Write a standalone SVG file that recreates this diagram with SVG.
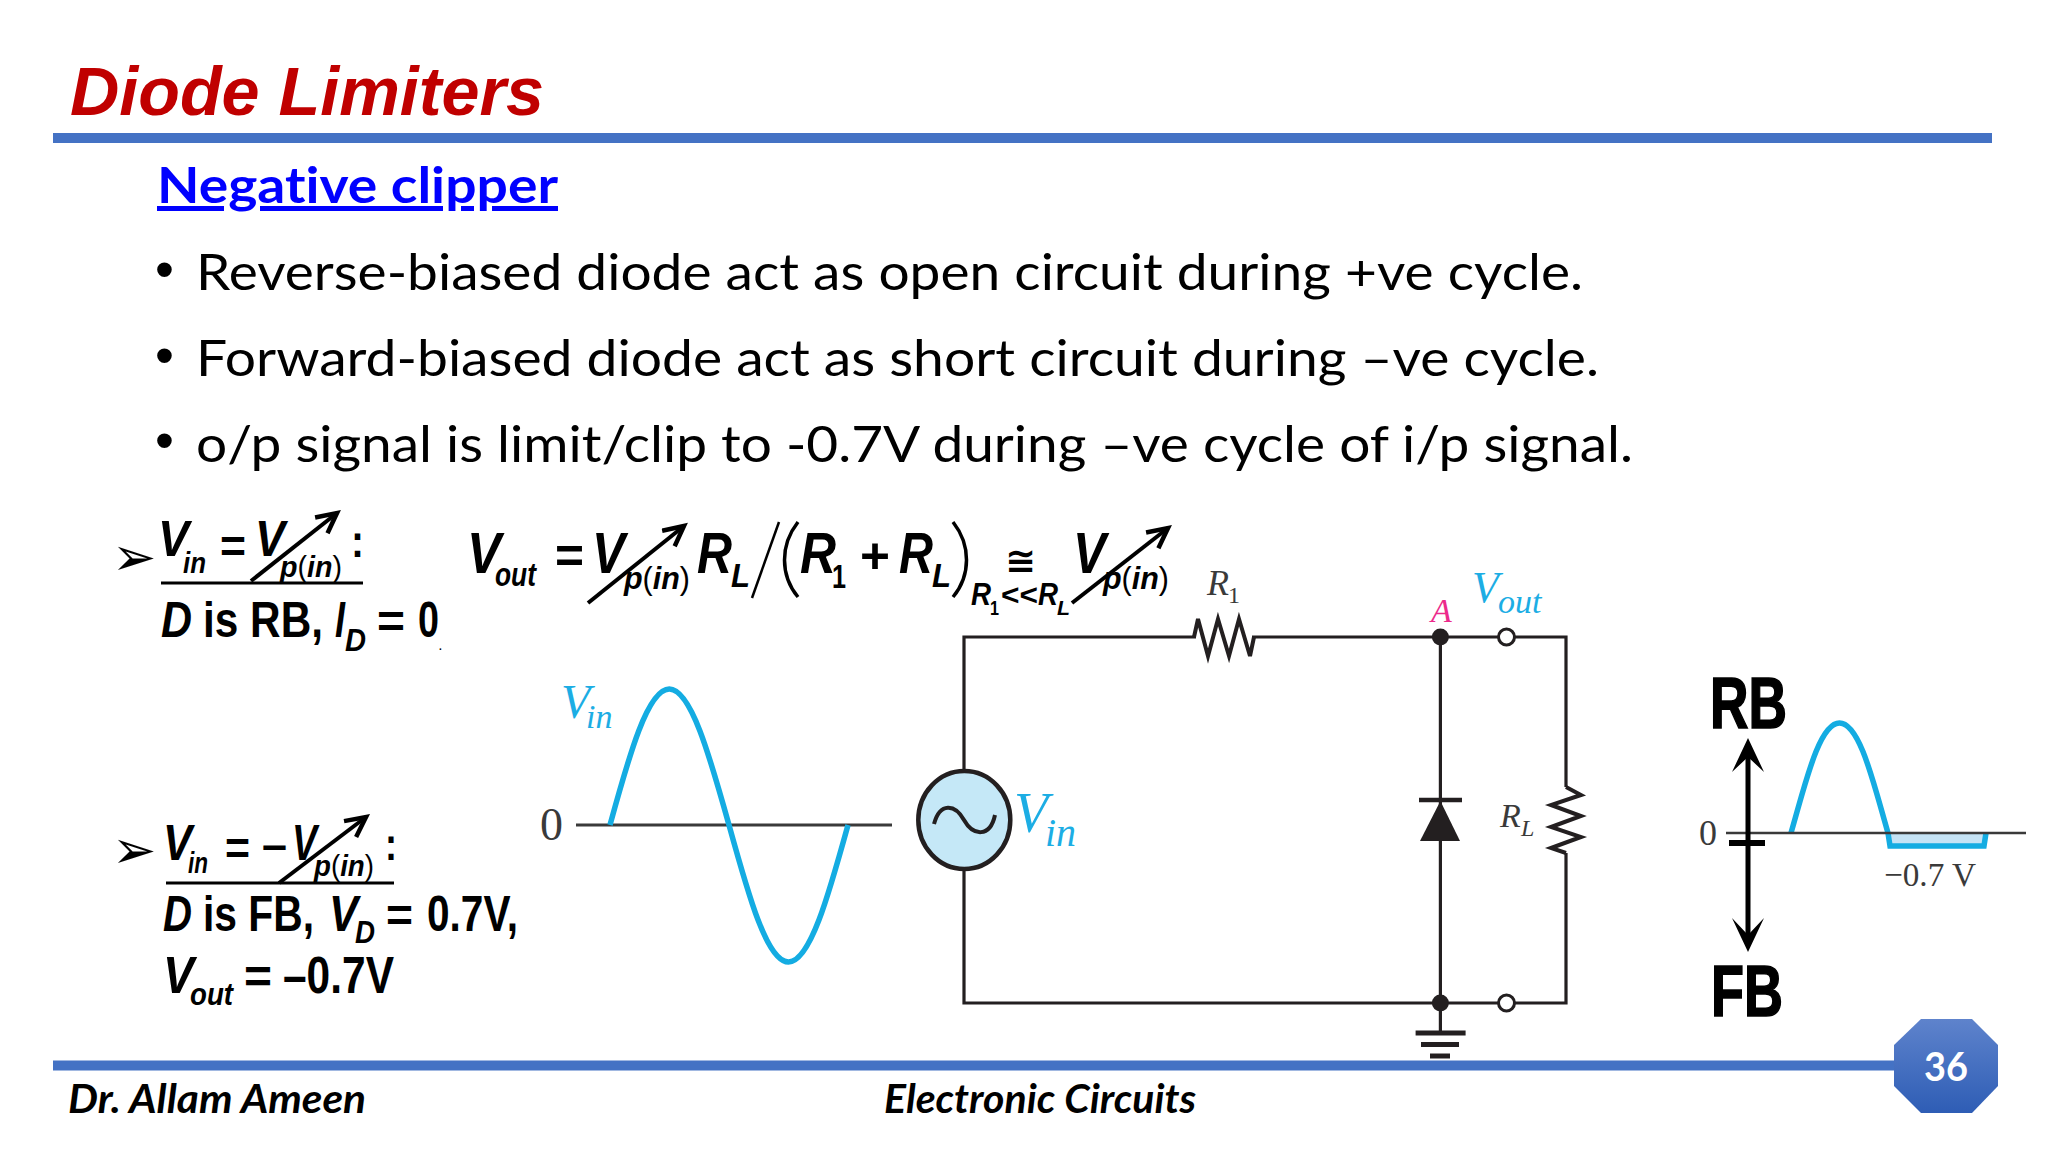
<svg xmlns="http://www.w3.org/2000/svg" width="2048" height="1152" viewBox="0 0 2048 1152">
<style>
text{white-space:pre;font-variant-ligatures:none}
.cal{font-family:"Lato","Carlito","Open Sans",sans-serif;fill:#000}
.dot{font-family:"Liberation Sans",Arial,sans-serif;fill:#000;font-size:54px}
.b{font-family:"Liberation Sans",Arial,sans-serif;font-weight:700;fill:#000}
.bi{font-family:"Liberation Sans",Arial,sans-serif;font-weight:700;font-style:italic;fill:#000}
.par{font-weight:400;font-style:normal}
.arw{font-family:"DejaVu Sans",sans-serif;font-size:53px;fill:#000}
.ti{font-family:"Liberation Serif","Times New Roman",serif;font-style:italic}
.t{font-family:"Liberation Serif","Times New Roman",serif}
.blue{fill:#1CADE4}
.dk{fill:#3a3a3a}
.w{fill:none;stroke:#231F20;stroke-width:3.2}
.z{fill:none;stroke:#231F20;stroke-width:4;stroke-linejoin:miter}
.nd{fill:#231F20}
.op{fill:#fff;stroke:#231F20;stroke-width:3}
.ar{fill:none;stroke:#000;stroke-width:4;marker-end:url(#ah)}
.ul{stroke:#000;stroke-width:3.2}
.wave{fill:none;stroke:#14ACE2;stroke-width:5.5}
.hv{stroke:#000;stroke-width:1.6}
</style>
<defs>
<marker id="ah" markerUnits="userSpaceOnUse" markerWidth="30" markerHeight="30" refX="24" refY="12" orient="auto">
<path d="M4,2 L24,12 L4,22" fill="none" stroke="#000" stroke-width="4.5"/>
</marker>
<linearGradient id="oct" x1="0" y1="0" x2="0" y2="1"><stop offset="0" stop-color="#5E83CC"/><stop offset="1" stop-color="#2E5DB5"/></linearGradient>
</defs>
<rect width="2048" height="1152" fill="#fff"/>

<g id="header">
<text x="70" y="115" font-family="Liberation Sans, Arial, sans-serif" font-weight="700" font-style="italic" font-size="69" fill="#C00000" textLength="474" lengthAdjust="spacingAndGlyphs">Diode Limiters</text>
<rect x="53" y="133" width="1939" height="10" fill="#4472C4"/>
</g>

<g id="bullets">
<text class="cal" x="157" y="203" font-size="50" font-weight="700" style="fill:#0000FF" text-decoration="underline" textLength="401" lengthAdjust="spacingAndGlyphs">Negative clipper</text>
<text class="dot" x="155" y="288">•</text>
<text class="cal" x="196" y="290" font-size="51" textLength="1387" lengthAdjust="spacingAndGlyphs">Reverse-biased diode act as open circuit during +ve cycle.</text>
<text class="dot" x="155" y="374">•</text>
<text class="cal" x="196" y="375.5" font-size="51" textLength="1403" lengthAdjust="spacingAndGlyphs">Forward-biased diode act as short circuit during –ve cycle.</text>
<text class="dot" x="155" y="459">•</text>
<text class="cal" x="196" y="461.5" font-size="51" textLength="1437" lengthAdjust="spacingAndGlyphs">o/p signal is limit/clip to -0.7V during –ve cycle of i/p signal.</text>
</g>

<g id="eq-rb">
<text class="arw" x="112" y="575">➢</text>
<text class="bi" x="158" y="556" font-size="50" textLength="31" lengthAdjust="spacingAndGlyphs">V</text>
<text class="bi" x="183" y="573" font-size="30" textLength="23" lengthAdjust="spacingAndGlyphs">in</text>
<text class="b" x="220" y="562" font-size="46" textLength="26" lengthAdjust="spacingAndGlyphs">=</text>
<text class="bi" x="255" y="556" font-size="50" textLength="30" lengthAdjust="spacingAndGlyphs">V</text>
<text class="bi" x="280" y="577" font-size="30" textLength="62" lengthAdjust="spacingAndGlyphs">p<tspan class="par">(</tspan>in<tspan class="par">)</tspan></text>
<text class="b" x="351" y="557" font-size="46" textLength="13" lengthAdjust="spacingAndGlyphs">:</text>
<line class="ul" x1="161" y1="583" x2="363" y2="583"/>
<path class="ar" d="M251,581 L337,513"/>
<text class="bi" x="161" y="637" font-size="50" textLength="31" lengthAdjust="spacingAndGlyphs">D</text>
<text class="b" x="203" y="637" font-size="50" textLength="120" lengthAdjust="spacingAndGlyphs">is RB,</text>
<text class="bi" x="335" y="637" font-size="50" textLength="10" lengthAdjust="spacingAndGlyphs">I</text>
<text class="bi" x="345" y="651" font-size="32" textLength="21" lengthAdjust="spacingAndGlyphs">D</text>
<text class="b" x="377" y="637" font-size="46" textLength="28" lengthAdjust="spacingAndGlyphs">=</text>
<text class="b" x="418" y="637" font-size="50" textLength="21" lengthAdjust="spacingAndGlyphs">0</text>
<text class="b" x="439" y="650" font-size="10">.</text>
</g>

<g id="eq-vout">
<text class="bi" x="467" y="573" font-size="58" textLength="34" lengthAdjust="spacingAndGlyphs">V</text>
<text class="bi" x="495" y="586" font-size="33" textLength="41" lengthAdjust="spacingAndGlyphs">out</text>
<text class="b" x="555" y="573" font-size="50" textLength="29" lengthAdjust="spacingAndGlyphs">=</text>
<text class="bi" x="592" y="573" font-size="58" textLength="33" lengthAdjust="spacingAndGlyphs">V</text>
<text class="bi" x="624" y="589" font-size="32" textLength="66" lengthAdjust="spacingAndGlyphs">p<tspan class="par">(</tspan>in<tspan class="par">)</tspan></text>
<path class="ar" d="M588,603 L684,526"/>
<text class="bi" x="697" y="573" font-size="58" textLength="35" lengthAdjust="spacingAndGlyphs">R</text>
<text class="bi" x="731" y="587" font-size="33" textLength="19" lengthAdjust="spacingAndGlyphs">L</text>
<line x1="752" y1="598" x2="779" y2="522" stroke="#000" stroke-width="2.5"/>
<path d="M798,522 C780,545 780,575 798,597" fill="none" stroke="#000" stroke-width="3.5"/>
<text class="bi" x="800" y="573" font-size="58" textLength="36" lengthAdjust="spacingAndGlyphs">R</text>
<text class="b" x="832" y="588" font-size="33" textLength="14" lengthAdjust="spacingAndGlyphs">1</text>
<text class="b" x="860" y="573" font-size="50" textLength="30" lengthAdjust="spacingAndGlyphs">+</text>
<text class="bi" x="899" y="573" font-size="58" textLength="34" lengthAdjust="spacingAndGlyphs">R</text>
<text class="bi" x="932" y="587" font-size="33" textLength="19" lengthAdjust="spacingAndGlyphs">L</text>
<path d="M953,522 C971,545 971,575 953,597" fill="none" stroke="#000" stroke-width="3.5"/>
<text class="bi" x="971" y="605" font-size="31" textLength="20" lengthAdjust="spacingAndGlyphs">R</text>
<text class="b" x="990" y="615" font-size="21" textLength="9" lengthAdjust="spacingAndGlyphs">1</text>
<text class="b" x="1001" y="605" font-size="30" textLength="37" lengthAdjust="spacingAndGlyphs">&lt;&lt;</text>
<text class="bi" x="1038" y="605" font-size="31" textLength="20" lengthAdjust="spacingAndGlyphs">R</text>
<text class="bi" x="1057" y="615" font-size="21" textLength="13" lengthAdjust="spacingAndGlyphs">L</text>
<text x="1005" y="573" font-family="DejaVu Sans, sans-serif" font-weight="700" font-size="36" textLength="31" lengthAdjust="spacingAndGlyphs">≅</text>
<text class="bi" x="1073" y="573" font-size="58" textLength="33" lengthAdjust="spacingAndGlyphs">V</text>
<text class="bi" x="1103" y="589" font-size="32" textLength="66" lengthAdjust="spacingAndGlyphs">p<tspan class="par">(</tspan>in<tspan class="par">)</tspan></text>
<path class="ar" d="M1072,603 L1168,528"/>
</g>

<g id="eq-fb">
<text class="arw" x="112" y="868">➢</text>
<text class="bi" x="163" y="860" font-size="50" textLength="29" lengthAdjust="spacingAndGlyphs">V</text>
<text class="bi" x="188" y="873" font-size="30" textLength="20" lengthAdjust="spacingAndGlyphs">in</text>
<text class="b" x="225" y="864" font-size="46" textLength="25" lengthAdjust="spacingAndGlyphs">=</text>
<text class="b" x="262" y="860" font-size="46" textLength="25" lengthAdjust="spacingAndGlyphs">–</text>
<text class="bi" x="292" y="860" font-size="50" textLength="25" lengthAdjust="spacingAndGlyphs">V</text>
<text class="bi" x="314" y="876" font-size="30" textLength="60" lengthAdjust="spacingAndGlyphs">p<tspan class="par">(</tspan>in<tspan class="par">)</tspan></text>
<text class="b" x="385" y="860" font-size="46" textLength="12" lengthAdjust="spacingAndGlyphs">:</text>
<line class="ul" x1="166" y1="883" x2="394" y2="883"/>
<path class="ar" d="M279,883 L366,817"/>
<text class="bi" x="163" y="931" font-size="50" textLength="29" lengthAdjust="spacingAndGlyphs">D</text>
<text class="b" x="203" y="931" font-size="50" textLength="111" lengthAdjust="spacingAndGlyphs">is FB,</text>
<text class="bi" x="329" y="931" font-size="50" textLength="29" lengthAdjust="spacingAndGlyphs">V</text>
<text class="bi" x="355" y="943" font-size="31" textLength="20" lengthAdjust="spacingAndGlyphs">D</text>
<text class="b" x="386" y="931" font-size="46" textLength="27" lengthAdjust="spacingAndGlyphs">=</text>
<text class="b" x="427" y="931" font-size="50" textLength="91" lengthAdjust="spacingAndGlyphs">0.7V,</text>
<text class="bi" x="163" y="993" font-size="52" textLength="31" lengthAdjust="spacingAndGlyphs">V</text>
<text class="bi" x="190" y="1005" font-size="31" textLength="43" lengthAdjust="spacingAndGlyphs">out</text>
<text class="b" x="244" y="993" font-size="48" textLength="28" lengthAdjust="spacingAndGlyphs">=</text>
<text class="b" x="283" y="993" font-size="52" textLength="111" lengthAdjust="spacingAndGlyphs">–0.7V</text>
</g>

<g id="input-wave">
<line x1="576" y1="825" x2="892" y2="825" stroke="#3a3a3a" stroke-width="3"/>
<path class="wave" d="M610,825 C629.1,755.4 647.7,689 669.3,689 C690.9,689 709.5,755.4 729,825 C748.4,895.2 767,962 788.5,962 C810,962 828.6,895.2 848,825"/>
<text class="t dk" x="540" y="840" font-size="46">0</text>
<text class="ti blue" x="561" y="718" font-size="48">V</text>
<text class="ti blue" x="586" y="728" font-size="34">in</text>
</g>

<g id="connectors">
<path class="w" d="M964,771 V637 H1196 M1252,637 H1566 V787 M1566,853 V1003 H964 V869"/>
<path class="w" d="M1440.4,637 V1033"/>
</g>

<g id="source">
<ellipse cx="964.3" cy="820" rx="46" ry="49" fill="#C5E8F7" stroke="#231F20" stroke-width="4.5"/>
<path d="M934,824 C940,802 955,804 964,820 C973,836 990,838 995,815" fill="none" stroke="#231F20" stroke-width="4"/>
<text class="ti blue" x="1014" y="832" font-size="56">V</text>
<text class="ti blue" x="1045" y="846" font-size="40">in</text>
</g>

<g id="r1">
<path class="z" d="M1194,637 L1198,619 L1208,656 L1218,619 L1229,656 L1239,619 L1250,656 L1254,637"/>
<text class="ti dk" x="1207" y="595" font-size="36">R</text>
<text class="t dk" x="1228" y="603" font-size="24">1</text>
</g>

<g id="node-a">
<circle class="nd" cx="1440.4" cy="637" r="8.5"/>
<text class="ti" x="1431" y="622" font-size="34" fill="#EC2A8B">A</text>
</g>

<g id="vout-top">
<circle class="op" cx="1506.5" cy="637" r="8"/>
<text class="ti blue" x="1472" y="602" font-size="44">V</text>
<text class="ti blue" x="1498" y="613" font-size="34">out</text>
</g>

<g id="diode">
<line x1="1419" y1="800" x2="1462" y2="800" stroke="#231F20" stroke-width="4.5"/>
<path class="nd" d="M1440.4,801 L1460,841 H1420 Z"/>
</g>

<g id="rl">
<path class="z" d="M1566,787 L1581,795 L1551,805 L1581,816 L1551,827 L1581,837 L1551,848 L1566,853"/>
<text class="ti dk" x="1500" y="827" font-size="34">R</text>
<text class="ti dk" x="1521" y="836" font-size="24">L</text>
</g>

<g id="node-bottom">
<circle class="nd" cx="1440.4" cy="1003" r="8.5"/>
<circle class="op" cx="1506.5" cy="1003" r="8"/>
</g>

<g id="ground">
<line x1="1415.6" y1="1033" x2="1465.6" y2="1033" stroke="#231F20" stroke-width="5"/>
<line x1="1421" y1="1044.5" x2="1459" y2="1044.5" stroke="#231F20" stroke-width="5"/>
<line x1="1430" y1="1056" x2="1450" y2="1056" stroke="#231F20" stroke-width="5"/>
</g>

<g id="output-wave">
<path d="M1888,833 L1890,846 H1984 L1986,833 Z" fill="#C5E3F5"/>
<path class="wave" d="M1791,833 C1805,785 1819,723 1839.5,723 C1860,723 1874,785 1888,833 L1890,846 H1984 L1986,833"/>
<line x1="1726" y1="833" x2="2026" y2="833" stroke="#3a3a3a" stroke-width="2.5"/>
<text class="t dk" x="1699" y="845" font-size="36">0</text>
<text class="t dk" x="1884" y="886" font-size="34" textLength="92" lengthAdjust="spacingAndGlyphs">−0.7 V</text>
</g>

<g id="rb-fb">
<text class="b hv" x="1710" y="728" font-size="72" textLength="77" lengthAdjust="spacingAndGlyphs">RB</text>
<text class="b hv" x="1711" y="1016" font-size="72" textLength="72" lengthAdjust="spacingAndGlyphs">FB</text>
<line x1="1748" y1="752" x2="1748" y2="938" stroke="#000" stroke-width="5"/>
<path d="M1748,738 L1764,772 L1748,757 L1732,772 Z" fill="#000"/>
<path d="M1748,952 L1764,918 L1748,935 L1732,918 Z" fill="#000"/>
<line x1="1729" y1="843" x2="1765" y2="843" stroke="#000" stroke-width="6"/>
</g>

<g id="footer">
<rect x="53" y="1060.5" width="1850" height="10" fill="#4472C4"/>
<text class="cal" x="68" y="1113" font-size="41" font-weight="700" font-style="italic" textLength="298" lengthAdjust="spacingAndGlyphs">Dr. Allam Ameen</text>
<text class="cal" x="884" y="1113" font-size="41" font-weight="700" font-style="italic" textLength="312" lengthAdjust="spacingAndGlyphs">Electronic Circuits</text>
</g>

<g id="page-number">
<path d="M1921,1019 H1972 L1998,1045 V1086 L1972,1113 H1921 L1894,1086 V1045 Z" fill="url(#oct)"/>
<text class="cal" x="1924" y="1081" font-size="41" font-weight="700" style="fill:#fff" textLength="44" lengthAdjust="spacingAndGlyphs">36</text>
</g>
</svg>
